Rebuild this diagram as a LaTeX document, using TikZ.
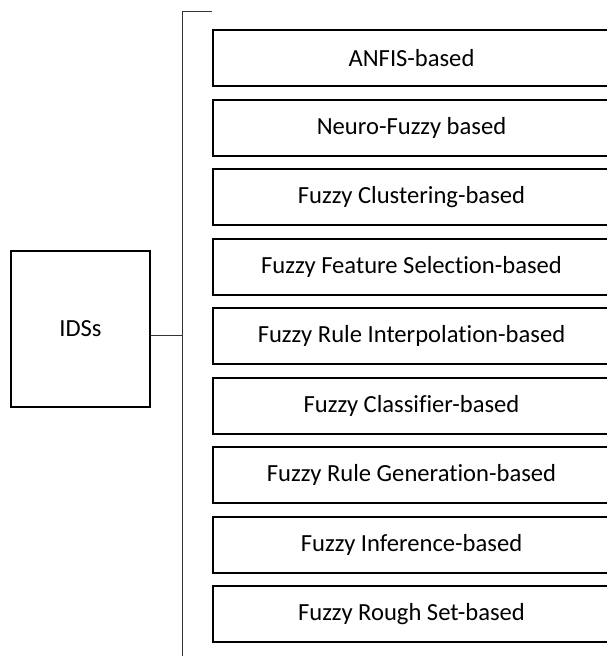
\documentclass[tikz,border=0pt]{standalone}
\usepackage{fontspec}
\setmainfont[Ligatures={NoCommon,NoRare}]{Carlito}
\begin{document}
\begin{tikzpicture}[x=1pt,y=-1pt,
  catbox/.style={draw=black,line width=2pt,minimum width=397pt,minimum height=56pt,inner sep=0pt,font=\fontsize{24.6}{28}\selectfont,anchor=north west},
  rootbox/.style={draw=black,line width=2pt,minimum width=139pt,minimum height=156pt,inner sep=0pt,font=\fontsize{24.6}{28}\selectfont,anchor=north west},
  link/.style={draw=black!80,line width=1pt}]
\useasboundingbox (0,0) rectangle (607,656);
\clip (0,0) rectangle (607,656);
\node[rootbox] (ids) at (10,250) {IDSs};
\coordinate (top) at (182,11);
\coordinate (toptick) at (212,11);
\coordinate (bot) at (182,660);
\coordinate (join) at (182,335);
\draw[link] (toptick) -- (top) -- (bot);
\draw[link] (ids.east |- join) -- (join);
\node[catbox] (b1) at (212,29) {ANFIS-based};
\node[catbox] (b2) at (212,98.5) {Neuro-Fuzzy based};
\node[catbox] (b3) at (212,168) {Fuzzy Clustering-based};
\node[catbox] (b4) at (212,237.5) {Fuzzy Feature Selection-based};
\node[catbox] (b5) at (212,307) {Fuzzy Rule Interpolation-based};
\node[catbox] (b6) at (212,376.5) {Fuzzy Classifier-based};
\node[catbox] (b7) at (212,446) {Fuzzy Rule Generation-based};
\node[catbox] (b8) at (212,515.5) {Fuzzy Inference-based};
\node[catbox] (b9) at (212,585) {Fuzzy Rough Set-based};
\end{tikzpicture}
\end{document}
